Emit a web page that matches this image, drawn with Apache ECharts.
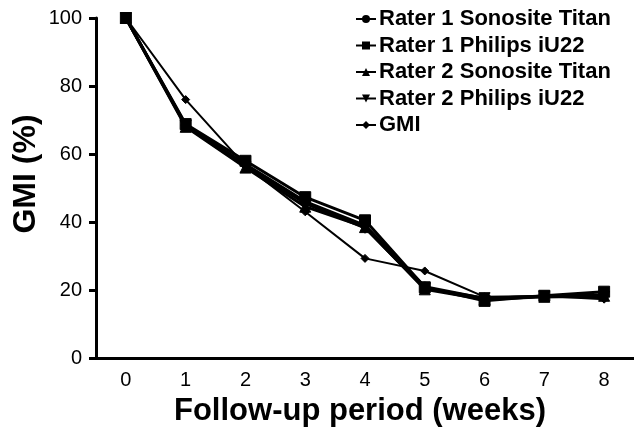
<!DOCTYPE html>
<html><head><meta charset="utf-8">
<script src="https://cdn.jsdelivr.net/npm/echarts@6/dist/echarts.min.js"></script>
<style>html,body{margin:0;padding:0;background:#fff}#c{width:634px;height:432px}</style>
</head><body><div id="c"></div>
<script>
var weeks = ['0','1','2','3','4','5','6','7','8'];
var yTicks = [0,20,40,60,80,100];
var rater1Sonosite = [100, 68.5, 57.0, 46.0, 39.0, 21.0, 17.5, 18.2, 18.5];
var rater1Philips  = [100, 68.8, 58.0, 47.3, 40.5, 20.8, 16.8, 18.3, 19.5];
var rater2Sonosite = [100, 68.0, 56.0, 44.5, 38.5, 20.2, 17.2, 18.0, 18.3];
var rater2Philips  = [100, 68.3, 56.3, 45.5, 38.3, 20.5, 17.6, 18.1, 18.0];
var gmi            = [100, 76.0, 56.5, 43.0, 29.3, 25.6, 18.0, 18.2, 17.3];

var FONT = 'Liberation Sans, Arial, sans-serif';
function mk(name, data, symbol, size, width, rot) {
  return {
    name: name, type: 'line', data: data, symbol: symbol, symbolSize: size,
    symbolRotate: rot || 0, showSymbol: true,
    lineStyle: {color: '#000', width: width},
    itemStyle: {color: '#000', borderColor: '#000'},
    animation: false
  };
}
var chart = echarts.init(document.getElementById('c'));
chart.setOption({
  backgroundColor: '#fff',
  animation: false,
  grid: {left: 96, right: -2, top: 18, bottom: 74, containLabel: false},
  legend: {
    orient: 'vertical', left: 350, top: 3, itemGap: 4.5,
    itemWidth: 20, itemHeight: 10,
    textStyle: {fontFamily: FONT, fontWeight: 'bold', fontSize: 22, color: '#000', padding: [0,0,0,-2]},
    data: ['Rater 1 Sonosite Titan','Rater 1 Philips iU22','Rater 2 Sonosite Titan','Rater 2 Philips iU22','GMI']
  },
  xAxis: {
    type: 'category', data: weeks, boundaryGap: true,
    axisLine: {lineStyle: {color: '#000', width: 3}},
    axisTick: {alignWithLabel: true, length: 6, lineStyle: {color: '#000', width: 3}},
    axisLabel: {fontFamily: FONT, fontSize: 20, color: '#000', margin: 12}
  },
  yAxis: {
    type: 'value', min: 0, max: 100, interval: 20,
    axisLine: {show: true, lineStyle: {color: '#000', width: 3}},
    axisTick: {show: true, length: 7, lineStyle: {color: '#000', width: 3}},
    axisLabel: {fontFamily: FONT, fontSize: 20, color: '#000', margin: 14},
    splitLine: {show: false}
  },
  graphic: [{
    type: 'text', x: 26, y: 174, rotation: Math.PI/2,
    style: {text: 'GMI (%)', font: 'bold 32px ' + FONT, fill: '#000', align: 'center', verticalAlign: 'middle'}
  }, {
    type: 'text', x: 360, y: 411,
    style: {text: 'Follow-up period (weeks)', font: 'bold 31px ' + FONT, fill: '#000', align: 'center', verticalAlign: 'middle'}
  }],
  series: [
    mk('Rater 1 Sonosite Titan', rater1Sonosite, 'circle', 9, 3),
    mk('Rater 1 Philips iU22', rater1Philips, 'rect', 11, 3),
    mk('Rater 2 Sonosite Titan', rater2Sonosite, 'triangle', 11, 3),
    mk('Rater 2 Philips iU22', rater2Philips, 'triangle', 11, 3, 180),
    mk('GMI', gmi, 'diamond', 8, 2)
  ]
});
</script></body></html>
